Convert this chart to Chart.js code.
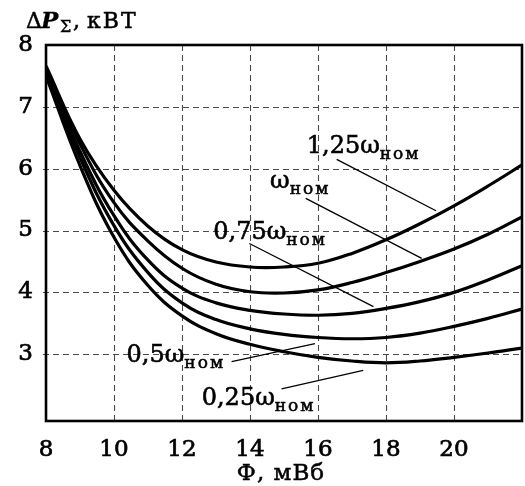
<!DOCTYPE html>
<html><head><meta charset="utf-8">
<script src="https://cdn.jsdelivr.net/npm/chart.js@4/dist/chart.umd.min.js"></script>
<style>html,body{margin:0;padding:0;background:#fff;overflow:hidden}#wrap{width:525px;height:486px;position:relative}</style>
</head><body><div id="wrap"><canvas id="c" width="525" height="486"></canvas></div>
<script>
// ---- data ----
const fluxValues = [8, 9, 10, 11, 12, 13, 14, 15, 16, 17, 18, 19, 20, 21, 22];
const loss125 = [7.66, 6.48, 5.65, 5.07, 4.69, 4.49, 4.41, 4.41, 4.47, 4.63, 4.85, 5.11, 5.40, 5.72, 6.06];
const loss100 = [7.62, 6.40, 5.45, 4.83, 4.39, 4.13, 4.01, 3.99, 4.04, 4.16, 4.32, 4.50, 4.70, 4.94, 5.22];
const loss075 = [7.58, 6.28, 5.24, 4.52, 4.07, 3.83, 3.71, 3.65, 3.63, 3.66, 3.74, 3.85, 4.00, 4.20, 4.43];
const loss050 = [7.55, 6.18, 5.08, 4.32, 3.83, 3.56, 3.41, 3.32, 3.27, 3.25, 3.27, 3.34, 3.45, 3.58, 3.73];
const loss025 = [7.50, 6.05, 4.89, 4.11, 3.62, 3.33, 3.16, 3.04, 2.95, 2.89, 2.86, 2.89, 2.95, 3.02, 3.10];
const seriesLabels = ['1,25ω', 'ω', '0,75ω', '0,5ω', '0,25ω'];
const seriesSub = 'ном';
const xTicks = [8, 10, 12, 14, 16, 18, 20];
const yTicks = [3, 4, 5, 6, 7, 8];
const xTitle = 'Ф, мВб';
const yTitleParts = ['Δ', 'P', 'Σ', ',', 'кВТ'];

// ---- callout placement (data units) ----
const callouts = [
  {text: 0, at: [15.67, 6.25], from: [16.55, 6.15], to: [19.47, 5.32]},
  {text: 1, at: [14.59, 5.68], from: [15.64, 5.52], to: [19.05, 4.55]},
  {text: 2, at: [12.92, 4.87], from: [13.98, 4.79], to: [17.63, 3.77]},
  {text: 3, at: [10.37, 2.88], from: [13.46, 2.88], to: [15.91, 3.17]},
  {text: 4, at: [12.58, 2.18], from: [14.93, 2.44], to: [17.33, 2.74]}
];

const FONT = '"DejaVu Serif", serif';
const seriesList = [loss125, loss100, loss075, loss050, loss025];

const datasets = seriesList.map((s, i) => ({
  label: seriesLabels[i] + seriesSub,
  data: fluxValues.map((x, j) => ({x: x, y: s[j]})),
  borderColor: '#000',
  borderWidth: 3.2,
  pointRadius: 0,
  fill: false,
  tension: 0.4
}));

function heavyText(ctx, txt, x, y, sw) {
  ctx.lineWidth = sw;
  ctx.strokeText(txt, x, y);
  ctx.fillText(txt, x, y);
}

const decor = {
  id: 'decor',
  beforeDatasetsDraw(chart) {
    const {ctx, chartArea: a, scales: {x, y}} = chart;
    ctx.save();
    ctx.strokeStyle = '#4a4a4a';
    ctx.lineWidth = 1.1;
    ctx.setLineDash([6, 4]);
    xTicks.forEach(v => {
      if (v <= x.min || v >= x.max) return;
      const px = Math.round(x.getPixelForValue(v)) + 0.5;
      ctx.beginPath(); ctx.moveTo(px, a.top); ctx.lineTo(px, a.bottom); ctx.stroke();
    });
    yTicks.forEach(v => {
      if (v <= y.min || v >= y.max) return;
      const py = Math.round(y.getPixelForValue(v)) + 0.5;
      ctx.beginPath(); ctx.moveTo(a.left - 3, py); ctx.lineTo(a.right, py); ctx.stroke();
    });
    ctx.restore();
  },
  afterDatasetsDraw(chart) {
    const {ctx, chartArea: a, scales: {x, y}} = chart;
    ctx.save();
    // frame
    ctx.strokeStyle = '#000';
    ctx.lineWidth = 2.6;
    ctx.setLineDash([]);
    ctx.strokeRect(a.left, a.top, a.right - a.left, a.bottom - a.top);
    // callouts
    ctx.fillStyle = '#000';
    ctx.textBaseline = 'alphabetic';
    ctx.textAlign = 'left';
    callouts.forEach(c => {
      ctx.lineWidth = 1.3;
      ctx.beginPath();
      ctx.moveTo(x.getPixelForValue(c.from[0]), y.getPixelForValue(c.from[1]));
      ctx.lineTo(x.getPixelForValue(c.to[0]), y.getPixelForValue(c.to[1]));
      ctx.stroke();
      const px = x.getPixelForValue(c.at[0]);
      const py = y.getPixelForValue(c.at[1]);
      ctx.font = '24px ' + FONT;
      ctx.letterSpacing = '0px';
      const main = seriesLabels[c.text];
      heavyText(ctx, main, px, py, 0.6);
      const w = ctx.measureText(main).width;
      ctx.font = '17px ' + FONT;
      ctx.letterSpacing = '2px';
      heavyText(ctx, seriesSub, px + w, py + 6, 0.5);
    });
    // y title
    const ty = 28;
    ctx.letterSpacing = '0px';
    ctx.font = '22px ' + FONT;
    heavyText(ctx, yTitleParts[0], 26, ty, 0.5);
    ctx.font = 'italic bold 23px ' + FONT;
    heavyText(ctx, yTitleParts[1], 41, ty, 0.3);
    ctx.font = '16px ' + FONT;
    heavyText(ctx, yTitleParts[2], 60, ty + 4, 0.4);
    ctx.font = '22px ' + FONT;
    heavyText(ctx, yTitleParts[3], 73, ty, 0.5);
    ctx.letterSpacing = '2px';
    heavyText(ctx, yTitleParts[4], 87, ty, 0.5);
    // x title
    ctx.letterSpacing = '1px';
    ctx.textAlign = 'center';
    ctx.font = '23px ' + FONT;
    heavyText(ctx, xTitle, 281, 480, 0.5);
    ctx.restore();
  }
};

new Chart(document.getElementById('c'), {
  type: 'line',
  data: {datasets},
  options: {
    responsive: false,
    animation: false,
    devicePixelRatio: 1,
    layout: {padding: {top: 45, right: 3, left: 0, bottom: 0}},
    plugins: {legend: {display: false}, tooltip: {enabled: false}, title: {display: false}},
    scales: {
      x: {
        type: 'linear', min: 8, max: 22,
        afterBuildTicks: s => { s.ticks = xTicks.map(v => ({value: v})); },
        afterFit: s => { s.height = 65; },
        grid: {display: false, drawTicks: false},
        border: {display: false},
        ticks: {color: '#000', font: {family: FONT, size: 23}, padding: 15, maxRotation: 0, autoSkip: false,
                textStrokeColor: '#000', textStrokeWidth: 0.7,
                callback: v => String(v)}
      },
      y: {
        type: 'linear', min: 1.92, max: 8,
        afterBuildTicks: s => { s.ticks = yTicks.map(v => ({value: v})); },
        afterFit: s => { s.width = 46; },
        grid: {display: false, drawTicks: false},
        border: {display: false},
        ticks: {color: '#000', font: {family: FONT, size: 23}, padding: 13, autoSkip: false,
                textStrokeColor: '#000', textStrokeWidth: 0.7,
                callback: v => String(v)}
      }
    }
  },
  plugins: [decor]
});
</script></body></html>
